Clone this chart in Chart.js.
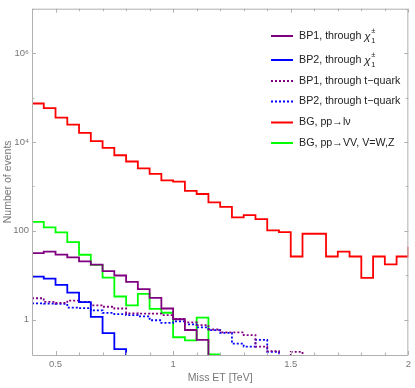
<!DOCTYPE html>
<html>
<head>
<meta charset="utf-8">
<script src="https://cdn.jsdelivr.net/npm/chart.js@4.4.1/dist/chart.umd.min.js"></script>
<style>
  html, body { margin: 0; padding: 0; background: #fff; }
  #c { display: block; }
</style>
</head>
<body>
<canvas id="c" width="415" height="388"></canvas>
<script>
// left edge of each 0.05 TeV bin; first one sits just left of the plot, last one is the right border
const binStarts = [0.35, 0.40, 0.45, 0.50, 0.55, 0.60, 0.65, 0.70, 0.75, 0.80, 0.85, 0.90, 0.95,
  1.00, 1.05, 1.10, 1.15, 1.20, 1.25, 1.30, 1.35, 1.40, 1.45, 1.50, 1.55, 1.60, 1.65, 1.70, 1.75,
  1.80, 1.85, 1.90, 1.95, 2.00];

// events per bin (0.05 = empty bin, falls under the axis)
const bp1Chi = [10.1, 31.5, 34.0, 29.2, 25.1, 20.5, 17.4, 12.4, 9.85, 7.09, 4.85, 3.08, 1.78, 1.02, 0.585, 0.352, 0.05];
const bp2Chi = [2.58, 9.27, 8.38, 6.09, 4.06, 2.49, 1.15, 0.497, 0.216, 0.05];
const bp1Top = [null, 3.03, 2.51, 2.39, 2.69, 2.51, 2.10, 1.95, 1.78, 1.39, 1.37, 1.36, 1.27, 1.04, 0.867,
  0.753, 0.600, 0.518, 0.518, 0.450, 0.247, 0.195, 0.05, 0.188, 0.05];
const bp2Top = [null, 2.33, 2.29, 2.27, 1.87, 1.81, 1.61, 1.42, 1.33, 1.27, 1.19, 0.970, 0.846, 0.913,
  0.785, 0.667, 0.579, 0.503, 0.288, 0.247, 0.352, 0.188, 0.05];
const bgLnu = [40600, 73400, 57900, 35400, 24500, 16100, 10400, 7380, 5020, 3630, 2550, 1920, 1370,
  1280, 796, 674, 436, 344, 200, 225, 184, 102, 93.6, 26.4, 85.9, 85.9, 26.4, 34.0, 26.4, 8.68,
  26.4, 17.6, 26.4, 43.8];
const bgVV = [181, 159, 119, 92.2, 55.6, 28.9, 17.1, 8.81, 3.32, 2.10, 3.80, 1.75, 1.43, 0.402, 0.340, 1.11, 0.165, 0.165];

const seriesLabels = ['BP1, through χ₁±', 'BP2, through χ₁±', 'BP1, through t−quark',
  'BP2, through t−quark', 'BG, pp→lν', 'BG, pp→VV, V=W,Z'];

const xTickValues = [0.5, 1, 1.5, 2];
const xTickMarks = [0.4, 0.5, 0.6, 0.7, 0.8, 0.9, 1.0, 1.1, 1.2, 1.3, 1.4, 1.5, 1.6, 1.7, 1.8, 1.9, 2.0];
const yTickValues = [1, 100, 1e4, 1e6];
const yTickLabels = ['1', '100', '10⁴', '10⁶'];
const yTickMarks = [1, 10, 100, 1e3, 1e4, 1e5, 1e6, 1e7];

const FONT = "'Liberation Sans', Arial, sans-serif";
const GRAY = '#b0b0b0';

const toPoints = (vals) => binStarts.map((x, i) => ({ x: x, y: vals[i] ?? null }));

const histo = (label, vals, color, dashed) => ({
  label: label,
  data: toPoints(vals),
  borderColor: color,
  borderWidth: 1.8,
  borderDash: dashed ? [2, 2] : [],
  stepped: true,
  pointRadius: 0,
  fill: false,
  spanGaps: false,
  clip: 0,
});

// frame with inward ticks + legend inside the plot
const framePlugin = {
  id: 'frame',
  afterDraw(chart) {
    const { ctx, chartArea: a, scales: { x, y } } = chart;
    ctx.save();
    ctx.strokeStyle = GRAY;
    ctx.lineWidth = 1;
    ctx.beginPath();
    ctx.rect(a.left + 0.5, a.top + 0.5, a.right - a.left - 1, a.bottom - a.top);
    xTickMarks.forEach((v) => {
      const px = Math.round(x.getPixelForValue(v)) + 0.5;
      const len = xTickValues.some((t) => Math.abs(t - v) < 1e-6) ? 4 : 2.5;
      ctx.moveTo(px, a.bottom); ctx.lineTo(px, a.bottom - len);
      ctx.moveTo(px, a.top); ctx.lineTo(px, a.top + len);
    });
    yTickMarks.forEach((v) => {
      const py = Math.round(y.getPixelForValue(v)) + 0.5;
      const len = yTickValues.includes(v) ? 4 : 2.5;
      ctx.moveTo(a.left, py); ctx.lineTo(a.left + len, py);
      ctx.moveTo(a.right, py); ctx.lineTo(a.right - len, py);
    });
    ctx.stroke();

    // legend
    const rowY = [36, 60, 81, 101.5, 122.5, 143];
    const lineX0 = 271, lineX1 = 293, textX = 299;
    ctx.textBaseline = 'middle';
    chart.data.datasets.forEach((ds, i) => {
      const yy = rowY[i];
      ctx.strokeStyle = ds.borderColor;
      ctx.lineWidth = 2;
      ctx.setLineDash(ds.borderDash);
      ctx.beginPath();
      ctx.moveTo(lineX0, yy); ctx.lineTo(lineX1, yy);
      ctx.stroke();
      ctx.setLineDash([]);
      ctx.fillStyle = '#222';
      ctx.font = '10.7px ' + FONT;
      let txt = ds.label;
      if (txt.endsWith('χ₁±')) {
        txt = txt.slice(0, -3);
        ctx.fillText(txt, textX, yy);
        let cx = textX + ctx.measureText(txt).width;
        ctx.font = 'italic 11.5px ' + FONT;
        ctx.fillText('χ', cx, yy + 1);
        cx += ctx.measureText('χ').width + 0.5;
        ctx.font = '7.5px ' + FONT;
        ctx.fillText('±', cx, yy - 5);
        ctx.fillText('1', cx, yy + 5);
      } else {
        ctx.fillText(txt, textX, yy);
      }
    });
    ctx.restore();
  },
};

const datasets = [
  histo(seriesLabels[0], bp1Chi, '#800080', false),
  histo(seriesLabels[1], bp2Chi, '#0000ff', false),
  histo(seriesLabels[2], bp1Top, '#800080', true),
  histo(seriesLabels[3], bp2Top, '#0000ff', true),
  histo(seriesLabels[4], bgLnu, '#ff0000', false),
  histo(seriesLabels[5], bgVV, '#00ff00', false),
];

new Chart(document.getElementById('c'), {
  type: 'line',
  data: { datasets: datasets },
  plugins: [framePlugin],
  options: {
    responsive: false,
    animation: false,
    devicePixelRatio: 1,
    layout: { padding: { top: 0, right: 4, left: 0, bottom: 0 } },
    plugins: { legend: { display: false }, tooltip: { enabled: false } },
    scales: {
      x: {
        type: 'linear',
        min: 0.4,
        max: 2.0,
        afterBuildTicks: (scale) => { scale.ticks = xTickValues.map((v) => ({ value: v })); },
        afterFit: (scale) => { scale.height = 33; },
        grid: { display: false, drawTicks: false },
        border: { display: false },
        ticks: {
          color: '#777',
          font: { family: FONT, size: 9.5 },
          padding: 4,
          maxRotation: 0,
          autoSkip: false,
          callback: (v) => String(v),
        },
        title: {
          display: true,
          text: 'Miss ET [TeV]',
          color: '#777',
          font: { family: FONT, size: 10.5 },
          padding: { top: 0, bottom: 3.5 },
        },
      },
      y: {
        type: 'logarithmic',
        min: 0.16,
        max: 1e7,
        afterBuildTicks: (scale) => { scale.ticks = yTickValues.map((v) => ({ value: v })); },
        afterFit: (scale) => { scale.width = 32; },
        grid: { display: false, drawTicks: false },
        border: { display: false },
        ticks: {
          color: '#777',
          font: { family: FONT, size: 9.5 },
          padding: 3,
          autoSkip: false,
          callback: (v, i) => yTickLabels[i],
        },
        title: {
          display: true,
          text: 'Number of events',
          color: '#777',
          font: { family: FONT, size: 10.5 },
          padding: { top: 1.5, bottom: 0 },
        },
      },
    },
  },
});
</script>
</body>
</html>
